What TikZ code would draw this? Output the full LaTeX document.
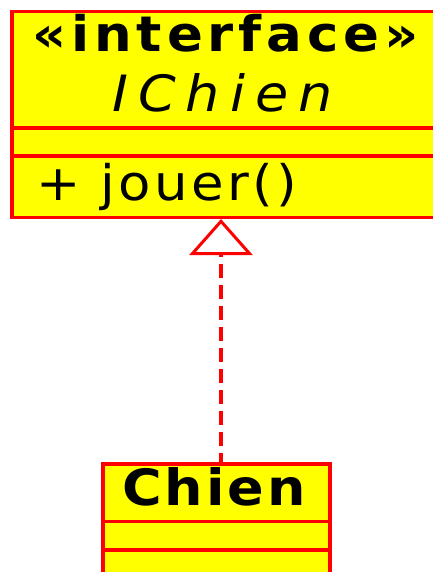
\documentclass[tikz,border=0pt]{standalone}
\usepackage{fontspec}
\setmainfont{DejaVu Sans}
\usetikzlibrary{arrows.meta}
\definecolor{uyellow}{HTML}{FFFF00}
\definecolor{ured}{HTML}{FF0000}
\begin{document}
\begin{tikzpicture}[x=1pt,y=-1pt,
  classbox/.style={draw=ured, fill=uyellow, line width=3.5pt, inner sep=0pt, anchor=north west},
  sepline/.style={draw=ured, line width=3.5pt},
  txt/.style={inner sep=0pt, anchor=base west, text=black},
  realize/.style={draw=ured, line width=3.5pt, dash pattern=on 14pt off 7pt, dash phase=4.75pt,
    -{Triangle[open, length=36pt, width=63pt, line width=3pt, fill=white]}}]
\useasboundingbox (0,0) rectangle (432,572);
% interface box
\node[classbox, minimum width=426pt, minimum height=205.5pt] (ichien) at (10,10) {};
\draw[sepline] (ichien.west |- 0,128) -- (ichien.east |- 0,128);
\draw[sepline] (ichien.west |- 0,156) -- (ichien.east |- 0,156);
\node[txt, font=\bfseries\fontsize{49}{49}\selectfont\addfontfeatures{FakeStretch=1.08,LetterSpace=10}] (stereo) at (32,52) {«interface»};
\node[txt, font=\itshape\fontsize{50}{50}\selectfont\addfontfeatures{FakeStretch=1.08,LetterSpace=20}] (iname) at (112,112) {IChien};
\node[txt, font=\fontsize{49}{49}\selectfont\addfontfeatures{FakeStretch=1.08,LetterSpace=7}] (op) at (36,200) {+ jouer()};
% class box
\node[classbox, minimum width=227.3pt, minimum height=140pt] (chien) at (101,462) {};
\draw[sepline] (chien.west |- 0,521.5) -- (chien.east |- 0,521.5);
\draw[sepline] (chien.west |- 0,550) -- (chien.east |- 0,550);
\node[txt, font=\bfseries\fontsize{50}{50}\selectfont\addfontfeatures{FakeStretch=1.08,LetterSpace=6}] (cname) at (122,505) {Chien};
% realization
\coordinate (ax) at (221,0);
\draw[realize] (chien.north -| ax) -- (ichien.south -| ax);
\end{tikzpicture}
\end{document}
